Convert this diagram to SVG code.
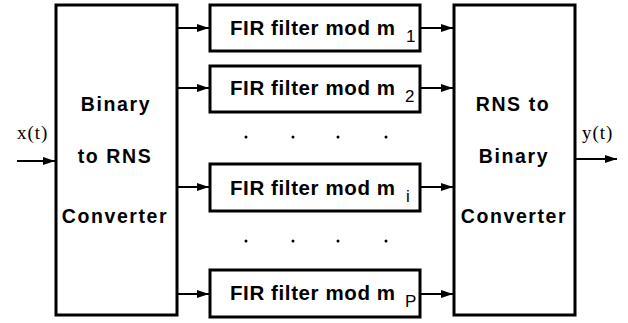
<svg xmlns="http://www.w3.org/2000/svg" width="628" height="323" viewBox="0 0 628 323">
<style>
.box{fill:#fff;stroke:#000;stroke-width:3}
.big{font-family:"Liberation Sans",Arial,sans-serif;font-weight:bold;font-size:19.5px;letter-spacing:1.6px;text-anchor:middle;fill:#000}
.fir{font-family:"Liberation Sans",Arial,sans-serif;font-weight:bold;font-size:20.5px;letter-spacing:0.6px;fill:#000}
.sub{font-family:"Liberation Sans",Arial,sans-serif;font-size:17px;fill:#000}
.lbl{font-family:"Liberation Serif","Times New Roman",serif;font-size:19px;letter-spacing:1px;fill:#000}
.conn{stroke:#000;stroke-width:2;fill:none;marker-end:url(#ah)}
.dot{fill:#000}
</style>
<defs>
<marker id="ah" viewBox="0 0 12 8" refX="12" refY="4" markerWidth="12" markerHeight="8" markerUnits="userSpaceOnUse" orient="auto">
<path d="M0,0 L12,4 L0,8 Z" fill="#000"/>
</marker>
</defs>
<g id="conn">
<line class="conn" x1="17" y1="161" x2="55" y2="161"/>
<line class="conn" x1="178" y1="28" x2="209" y2="28"/>
<line class="conn" x1="178" y1="88" x2="209" y2="88"/>
<line class="conn" x1="178" y1="187" x2="209" y2="187"/>
<line class="conn" x1="178" y1="294" x2="209" y2="294"/>
<line class="conn" x1="421" y1="28" x2="453" y2="28"/>
<line class="conn" x1="421" y1="88" x2="453" y2="88"/>
<line class="conn" x1="421" y1="187" x2="453" y2="187"/>
<line class="conn" x1="421" y1="294" x2="453" y2="294"/>
<line class="conn" x1="576" y1="159" x2="617" y2="159"/>
</g>
<g id="b2rns">
<rect class="box" x="56" y="5" width="121" height="310"/>
<text class="big" x="116" y="111">Binary</text>
<text class="big" x="115" y="163">to RNS</text>
<text class="big" x="115" y="223">Converter</text>
</g>
<g id="rns2b">
<rect class="box" x="454" y="5" width="121" height="310"/>
<text class="big" x="513" y="111">RNS to</text>
<text class="big" x="514" y="163">Binary</text>
<text class="big" x="514" y="223">Converter</text>
</g>
<g id="fir1">
<rect class="box" x="210" y="5" width="210" height="46"/>
<text class="fir" x="230" y="35">FIR filter mod m</text>
<text class="sub" x="406" y="42">1</text>
</g>
<g id="fir2">
<rect class="box" x="210" y="66" width="210" height="46"/>
<text class="fir" x="230" y="95">FIR filter mod m</text>
<text class="sub" x="405" y="102">2</text>
</g>
<g id="firi">
<rect class="box" x="210" y="164" width="210" height="47"/>
<text class="fir" x="230" y="195">FIR filter mod m</text>
<text class="sub" x="406" y="202">i</text>
</g>
<g id="firp">
<rect class="box" x="210" y="270" width="210" height="47"/>
<text class="fir" x="230" y="300">FIR filter mod m</text>
<text class="sub" x="405" y="307">P</text>
</g>
<g id="dots">
<circle class="dot" cx="246" cy="137" r="1.5"/>
<circle class="dot" cx="293" cy="137" r="1.5"/>
<circle class="dot" cx="338" cy="137" r="1.5"/>
<circle class="dot" cx="386" cy="137" r="1.5"/>
<circle class="dot" cx="246" cy="241" r="1.5"/>
<circle class="dot" cx="293" cy="241" r="1.5"/>
<circle class="dot" cx="338" cy="241" r="1.5"/>
<circle class="dot" cx="386" cy="241" r="1.5"/>
</g>
<text class="lbl" x="17" y="139">x(t)</text>
<text class="lbl" x="582" y="139">y(t)</text>
</svg>
